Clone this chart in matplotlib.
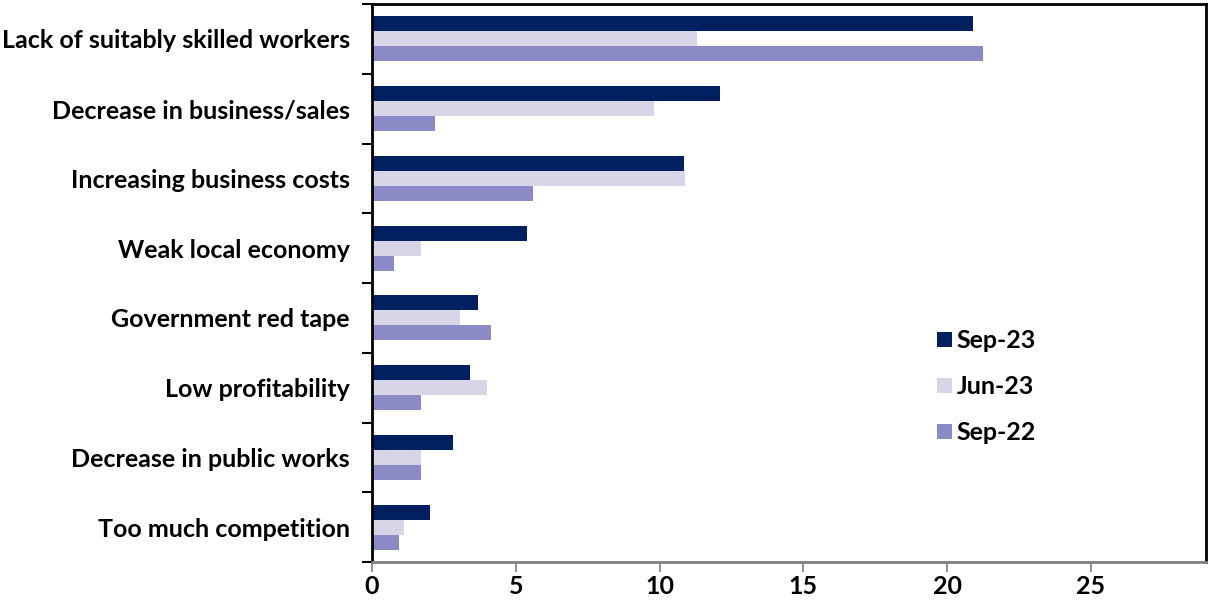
import matplotlib
matplotlib.use("Agg")
import matplotlib.pyplot as plt
import numpy as np

plt.rcParams['font.family'] = ['Lato', 'DejaVu Sans']
plt.rcParams['font.weight'] = 'bold'

# ---- data ----
categories = [
    "Lack of suitably skilled workers",
    "Decrease in business/sales",
    "Increasing business costs",
    "Weak local economy",
    "Government red tape",
    "Low profitability",
    "Decrease in public works",
    "Too much competition",
]
series_names = ["Sep-23", "Jun-23", "Sep-22"]
sep23 = [20.9, 12.1, 10.85, 5.4, 3.7, 3.4, 2.8, 2.0]
jun23 = [11.3, 9.8, 10.9, 1.7, 3.05, 4.0, 1.7, 1.1]
sep22 = [21.25, 2.2, 5.6, 0.75, 4.15, 1.7, 1.7, 0.95]
colors = ["#002060", "#D9D5E8", "#8B8AC6"]
xticks = [0, 5, 10, 15, 20, 25]

FS = 18

fig = plt.figure(figsize=(12.09, 6.06), dpi=100)
ax = fig.add_axes([372 / 1209, 1 - 562 / 606, (1206 - 372) / 1209, (562 - 4) / 606])

n = len(categories)
pos = np.arange(n)
h = 0.215
for k, (vals, name, col) in enumerate(zip([sep23, jun23, sep22], series_names, colors)):
    ax.barh(pos + (k - 1) * h, vals, height=h, color=col, label=name)

ax.set_ylim(n - 0.5, -0.5)
ax.set_xlim(0, 29)

# category labels sit between the boundary ticks
ax.set_yticks(pos)
ax.set_yticklabels(categories, fontsize=FS, fontweight='bold')
ax.tick_params(axis='y', length=0, pad=16)
ax.set_yticks(np.arange(n + 1) - 0.5, minor=True)
ax.tick_params(axis='y', which='minor', length=7, width=1.5, color='black', direction='out')

ax.set_xticks(xticks)
ax.set_xticklabels([str(t) for t in xticks], fontsize=FS, fontweight='bold')
ax.tick_params(axis='x', length=7, width=1.2, color='#808080', pad=2)

for side in ['top', 'right', 'left']:
    ax.spines[side].set_color('black')
    ax.spines[side].set_linewidth(2)
ax.spines['bottom'].set_color('#808080')
ax.spines['bottom'].set_linewidth(2)

ax.legend(loc='upper left', bbox_to_anchor=(0.665, 0.435), frameon=False,
          handlelength=0.6, handleheight=0.6,
          labelspacing=0.92, handletextpad=0.2, borderaxespad=0,
          prop={'weight': 'bold', 'size': FS})

fig.savefig("out.png", dpi=100)
